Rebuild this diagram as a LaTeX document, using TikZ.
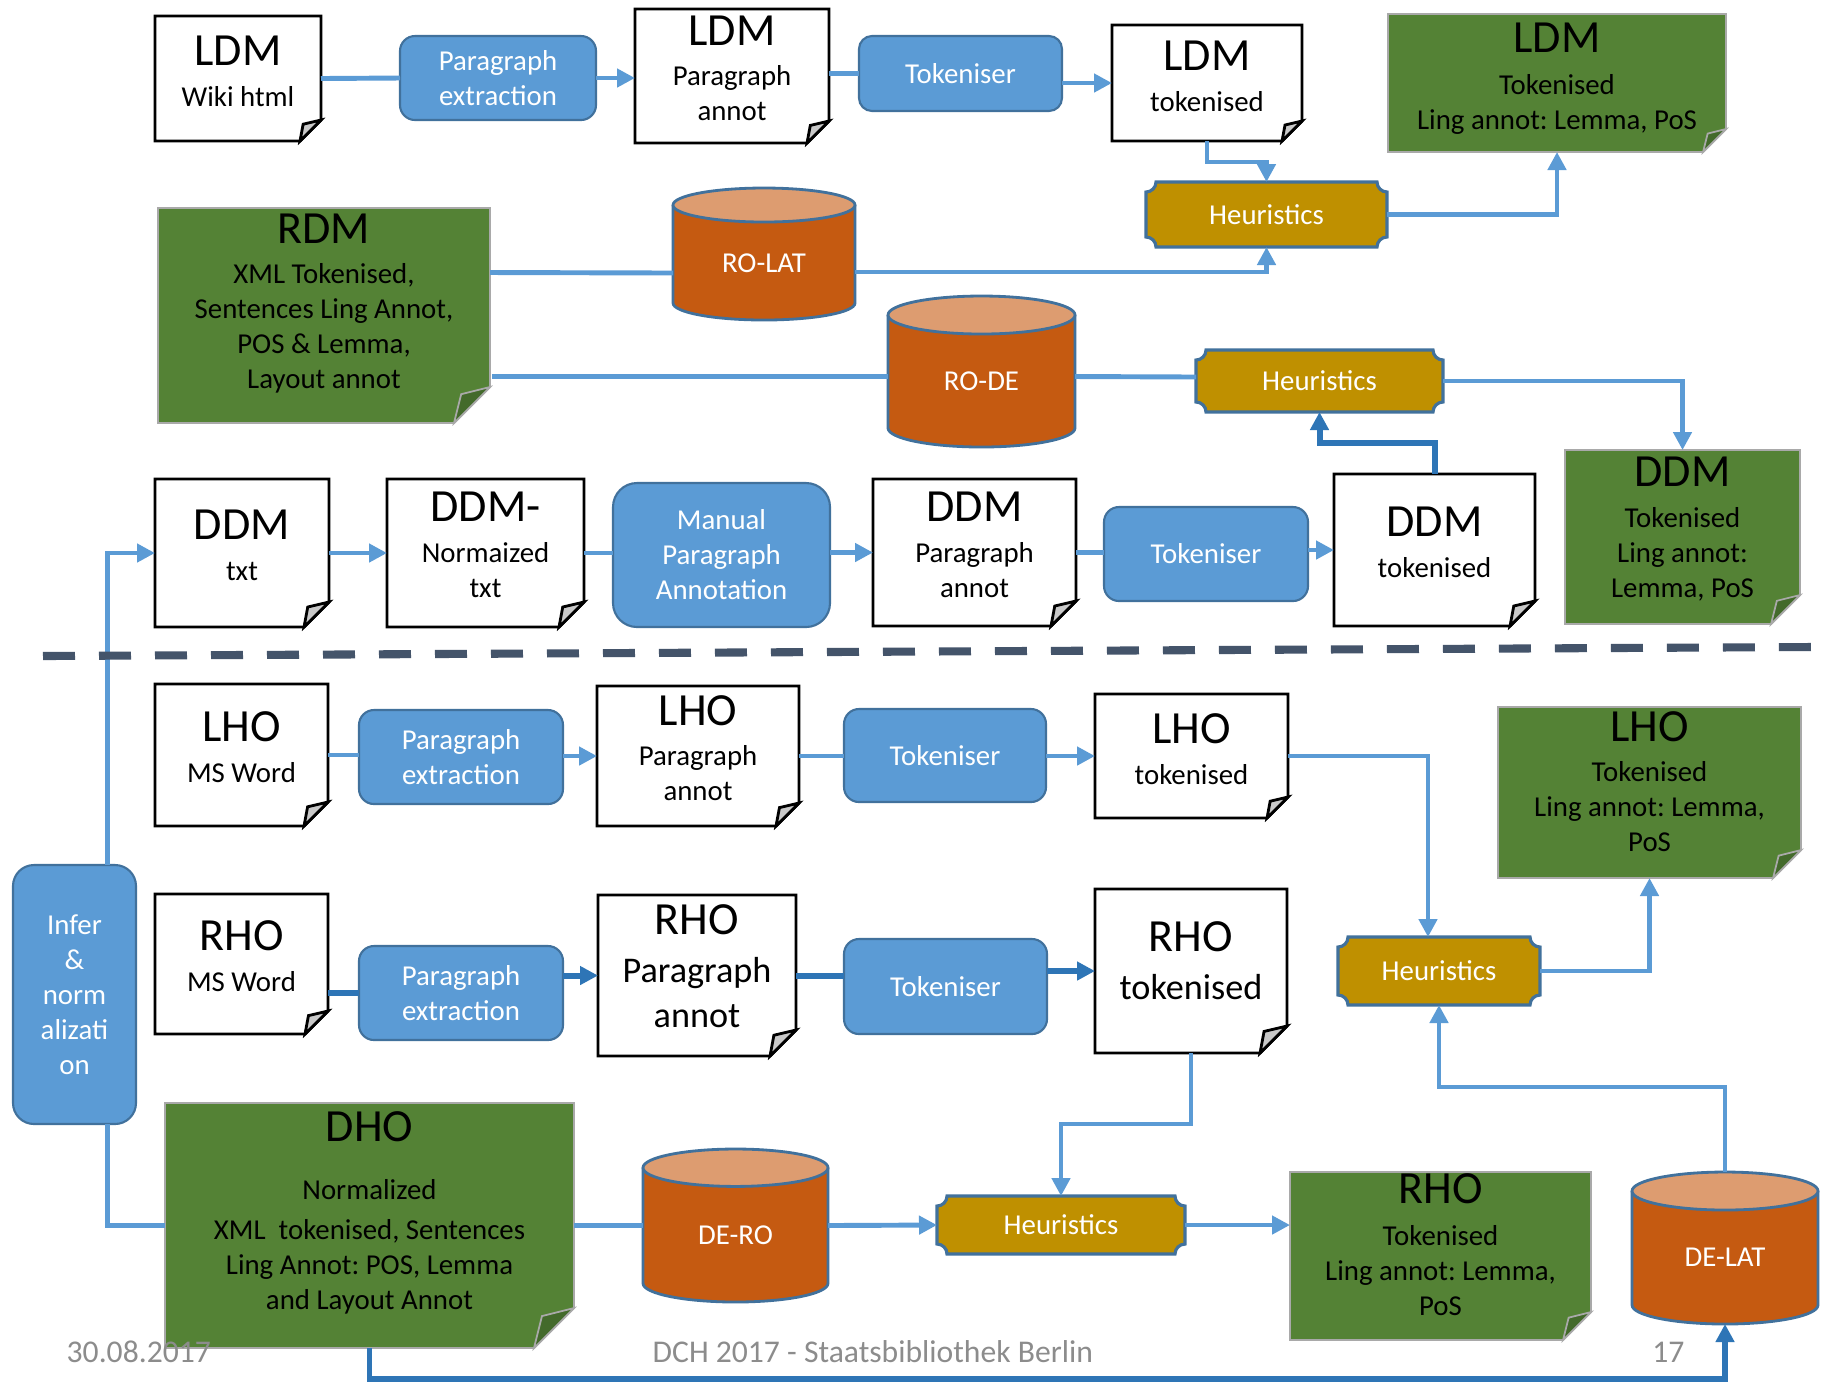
\documentclass[tikz,border=0pt]{standalone}
\usepackage{fontspec}
\setmainfont{Carlito}
\frenchspacing
\usetikzlibrary{arrows.meta,calc,backgrounds}

\definecolor{lineblue}{HTML}{5B9BD5}
\definecolor{darkline}{HTML}{2E75B6}
\definecolor{boxedge}{HTML}{41719C}
\definecolor{notegreen}{HTML}{548235}
\definecolor{foldgreen}{HTML}{436A2B}
\definecolor{noteedge}{HTML}{A9A9A9}
\definecolor{foldgray}{HTML}{C9C9C9}
\definecolor{heurgold}{HTML}{BF9000}
\definecolor{cylbody}{HTML}{C55A11}
\definecolor{cyltop}{HTML}{DD9C70}
\definecolor{sepline}{HTML}{44546A}
\definecolor{footgray}{HTML}{8C8C8C}

\newcommand\bodysize{\fontsize{8.2pt}{9.96pt}\selectfont}
\newcommand\titlesize{\fontsize{13.1pt}{15.7pt}\selectfont}
\newcommand\bigsize{\fontsize{10.3pt}{12.4pt}\selectfont}
\newcommand\footsize{\fontsize{9pt}{10.8pt}\selectfont}

\tikzset{
  spanbox/.style n args={4}{minimum width={(#3-#1)*0.1mm}, minimum height={(#4-#2)*0.1mm},
    at={({(#1+#3)/2},{(#2+#4)/2})}},
  conn/.style={draw=lineblue, line width=1.4pt},
  darkconn/.style={draw=darkline, line width=1.7pt},
  arrowed/.style={-{Triangle[length=1.8mm,width=1.8mm]}},
  docnode/.style={inner sep=0pt, outer sep=0pt, align=center, font=\bodysize, text depth=4.6pt},
  notenode/.style={docnode, text depth=6.2pt},
  procbox/.style={inner sep=0pt, outer sep=0pt, align=center, font=\bodysize, text=white,
    draw=boxedge, line width=0.6pt, fill=lineblue, rounded corners=1.5mm},
  heurtext/.style={inner sep=0pt, outer sep=0pt, font=\bodysize, text=white},
  cyltext/.style={heurtext, text height=10.7pt, text depth=0pt},
  docline/.style={draw=black, line width=0.8pt},
  noteline/.style={draw=noteedge, line width=0.5pt},
  heurline/.style={draw=boxedge, line width=0.9pt},
  cylline/.style={draw=boxedge, line width=0.8pt},
  sepdash/.style={draw=sepline, line width=2.3pt, dash pattern=on 3.2mm off 2.4mm},
  foot/.style={font=\footsize, text=footgray, inner sep=0pt},
}

\begin{document}
\begin{tikzpicture}[x=0.1mm, y=-0.1mm]
\useasboundingbox (0,0) rectangle (1826,1383);
\begin{scope}[on background layer]
  \fill[white] (0,0) rectangle (1826,1383);
\end{scope}

% LDM row
\node[docnode, text depth=4pt, spanbox={155}{16}{321}{141}] (ldmWiki) {{\titlesize LDM}\\[1.6pt]Wiki html};
\node[procbox, spanbox={400}{36}{596}{120}] (pe1) {Paragraph\\extraction};
\node[docnode, text depth=4.4pt, spanbox={635}{9}{829}{143}] (ldmPara) {{\titlesize LDM}\\[1.6pt]Paragraph\\annot};
\node[procbox, rounded corners=1.3mm, spanbox={859}{36}{1062}{111}] (tok1) {Tokeniser};
\node[docnode, text depth=4pt, spanbox={1112}{25}{1302}{141}] (ldmTok) {{\titlesize LDM}\\[1.6pt]tokenised};
\node[notenode, text depth=4pt, spanbox={1388}{14}{1726}{152}] (ldmOut) {{\titlesize LDM}\\[1.9pt]Tokenised\\Ling annot: Lemma, PoS};

% RDM
\node[notenode, text depth=8pt, spanbox={158}{208}{490}{423}] (rdm) {{\titlesize RDM}\\[1.4pt]XML Tokenised,\\Sentences Ling Annot,\\POS \& Lemma,\\Layout annot};

% DDM row
\node[docnode, spanbox={155}{479}{329}{627}] (ddmTxt) {{\titlesize DDM}\\[1.6pt]txt};
\node[docnode, spanbox={387}{479}{584}{627}] (ddmNorm) {{\titlesize DDM-}\\[1.6pt]Normaized\\txt};
\node[procbox, rounded corners=2.4mm, spanbox={613}{483}{830}{627}] (manual) {Manual\\Paragraph\\Annotation};
\node[docnode, spanbox={873}{479}{1076}{626}] (ddmPara) {{\titlesize DDM}\\[1.6pt]Paragraph\\annot};
\node[procbox, spanbox={1104}{507}{1308}{601}] (tok2) {Tokeniser};
\node[docnode, spanbox={1334}{474}{1535}{626}] (ddmTok) {{\titlesize DDM}\\[1.6pt]tokenised};
\node[notenode, text depth=5.5pt, spanbox={1565}{450}{1800}{624}] (ddmOut) {{\titlesize DDM}\\[1.7pt]Tokenised\\Ling annot:\\Lemma, PoS};

% LHO row
\node[docnode, spanbox={155}{684}{328}{826}] (lhoWord) {{\titlesize LHO}\\[1.6pt]MS Word};
\node[procbox, spanbox={359}{710}{563}{804}] (pe2) {Paragraph\\extraction};
\node[docnode, spanbox={597}{686}{799}{826}] (lhoPara) {{\titlesize LHO}\\[1.6pt]Paragraph\\annot};
\node[procbox, spanbox={844}{709}{1046}{802}] (tok3) {Tokeniser};
\node[docnode, text depth=4pt, spanbox={1095}{694}{1288}{818}] (lhoTok) {{\titlesize LHO}\\[1.6pt]tokenised};
\node[notenode, spanbox={1498}{707}{1801}{878}] (lhoOut) {{\titlesize LHO}\\[1.6pt]Tokenised\\Ling annot: Lemma,\\PoS};

% RHO row
\node[procbox, rounded corners=2.1mm, spanbox={13}{865}{136}{1124}] (infer) {Infer\\\&\\norm\\alizati\\on};
\node[docnode, spanbox={155}{894}{328}{1034}] (rhoWord) {{\titlesize RHO}\\[1.6pt]MS Word};
\node[procbox, spanbox={359}{946}{563}{1040}] (pe3) {Paragraph\\extraction};
\node[docnode, text depth=5.3pt, spanbox={598}{895}{796}{1056}] (rhoPara) {{\titlesize RHO}\\[3.6pt]{\bigsize Paragraph}\\[3.1pt]{\bigsize annot}};
\node[procbox, spanbox={844}{939}{1047}{1034}] (tok4) {Tokeniser};
\node[docnode, text depth=5.9pt, spanbox={1095}{889}{1287}{1053}] (rhoTok) {{\titlesize RHO}\\[3.8pt]{\bigsize tokenised}};

% DHO row
\node[notenode, text depth=8.7pt, spanbox={165}{1103}{574}{1348}] (dho) {{\titlesize DHO}\\[6.7pt]Normalized\\[1.2pt]XML\ \ tokenised, Sentences\\Ling Annot: POS, Lemma\\and Layout Annot};
\node[notenode, text depth=6.3pt, spanbox={1290}{1172}{1591}{1340}] (rhoOut) {{\titlesize RHO}\\[2pt]Tokenised\\Ling annot: Lemma,\\PoS};

% heuristics
\foreach \n/\xl/\yt/\xr/\yb in {h1/1146/182/1387/247, h2/1196/350/1443/412, h3/1338/937/1540/1005, h4/937/1196/1185/1254}
{
    \filldraw[heurline, fill=heurgold] (\xl+10,\yt) -- (\xr-10,\yt)
      .. controls (\xr-10,\yt+5.5) and (\xr-5.5,\yt+10) .. (\xr,\yt+10) -- (\xr,\yb-10)
      .. controls (\xr-5.5,\yb-10) and (\xr-10,\yb-5.5) .. (\xr-10,\yb) -- (\xl+10,\yb)
      .. controls (\xl+10,\yb-5.5) and (\xl+5.5,\yb-10) .. (\xl,\yb-10) -- (\xl,\yt+10)
      .. controls (\xl+5.5,\yt+10) and (\xl+10,\yt+5.5) .. (\xl+10,\yt) -- cycle;
    \node[heurtext, spanbox={\xl}{\yt}{\xr}{\yb}] (\n) {Heuristics};
}

% databases
\foreach \n/\xl/\yt/\xr/\yb/\ry/\lbl in {roLat/673/188/855/320/17/RO-LAT, roDe/888/296/1075/447/19/RO-DE, deRo/643/1149/828/1302/18.7/DE-RO, deLat/1632/1172/1818/1324/19/DE-LAT}
{
    \pgfmathsetmacro\xc{(\xl+\xr)/2}
    \pgfmathsetmacro\rx{(\xr-\xl)/2}
    \filldraw[cylline, fill=cylbody] (\xl,\yt+\ry) -- (\xl,\yb-\ry)
      .. controls (\xl,\yb-0.448*\ry) and (\xc-0.552*\rx,\yb) .. (\xc,\yb)
      .. controls (\xc+0.552*\rx,\yb) and (\xr,\yb-0.448*\ry) .. (\xr,\yb-\ry) -- (\xr,\yt+\ry);
    \filldraw[cylline, fill=cyltop] (\xc,\yt+\ry) ellipse [x radius=\rx, y radius=\ry];
    \node[cyltext, spanbox={\xl}{\yt}{\xr}{\yb}] (\n) {\lbl};
}

% document and note outlines
\begin{scope}[on background layer]
\foreach \n/\f in {ldmWiki/21,ldmPara/22,ldmTok/20,ddmTxt/25,ddmNorm/25,ddmPara/25,ddmTok/25,lhoWord/24,lhoPara/23,lhoTok/21,rhoWord/23,rhoPara/26,rhoTok/27}
{
    \filldraw[docline, fill=white] (\n.north west) -- (\n.north east) -- ($(\n.south east)+(0,-\f)$)
      -- ($(\n.south east)+(-\f,0)$) -- (\n.south west) -- cycle;
    \filldraw[docline, fill=foldgray] ($(\n.south east)+(0,-\f)$) -- ($(\n.south east)+(-0.85*\f,-0.8*\f)$)
      -- ($(\n.south east)+(-\f,0)$) -- cycle;
}
\foreach \n/\f in {ldmOut/23,rdm/36,ddmOut/29,lhoOut/28,dho/40,rhoOut/28}
{
    \filldraw[noteline, fill=notegreen] (\n.north west) -- (\n.north east) -- ($(\n.south east)+(0,-\f)$)
      -- ($(\n.south east)+(-\f,0)$) -- (\n.south west) -- cycle;
    \filldraw[noteline, fill=foldgreen] ($(\n.south east)+(0,-\f)$) -- ($(\n.south east)+(-0.8*\f,-0.8*\f)$)
      -- ($(\n.south east)+(-\f,0)$) -- cycle;
}
\end{scope}

% connectors, LDM and RDM
\draw[conn] (ldmWiki.east) -- (pe1.west);
\draw[conn, arrowed] (pe1.east) -- (pe1.east -| ldmPara.west);
\draw[conn] (ldmPara.east |- tok1.west) -- (tok1.west);
\draw[conn, arrowed] (tok1.east |- ldmTok.west) -- (ldmTok.west);
\draw[conn, arrowed] (ldmTok.south) -- ++(0,21) -| (h1.north);
\draw[conn, arrowed] (h1.east) -| (ldmOut.south);
\draw[conn] ($(rdm.east)+(0,-43)$) -- ($(roLat.west)+(0,19)$);
\draw[conn, arrowed] ($(roLat.east)+(0,18)$) -| (h1.south);
\draw[conn] ($(rdm.east)+(2,61)$) -- ($(roDe.west)+(0,5)$);
\draw[conn] ($(roDe.east)+(0,5)$) -- ($(h2.west)+(0,-4)$);
\draw[conn, arrowed] (h2.east) -| (ddmOut.north);
\draw[darkconn, arrowed] (ddmTok.north) -- ++(0,-31) -| (h2.south);

% connectors, DDM
\draw[conn, arrowed] ($(infer.north)+(33,0)$) |- (ddmTxt.west);
\draw[conn, arrowed] (ddmTxt.east) -- (ddmNorm.west);
\draw[conn] (ddmNorm.east) -- (ddmNorm.east -| manual.west);
\draw[conn, arrowed] (manual.east |- ddmPara.west) -- (ddmPara.west);
\draw[conn] (ddmPara.east) -- (ddmPara.east -| tok2.west);
\draw[conn, arrowed] (tok2.east |- ddmTok.west) -- (ddmTok.west);

% connectors, LHO
\draw[conn] (lhoWord.east) -- (lhoWord.east -| pe2.west);
\draw[conn, arrowed] (pe2.east |- lhoPara.west) -- (lhoPara.west);
\draw[conn] (lhoPara.east) -- (lhoPara.east -| tok3.west);
\draw[conn, arrowed] (tok3.east |- lhoTok.west) -- (lhoTok.west);
\draw[conn, arrowed] (lhoTok.east) -| ($(h3.north)+(-11,0)$);
\draw[conn, arrowed] (h3.east) -| (lhoOut.south);

% connectors, RHO
\draw[darkconn] (rhoWord.east |- pe3.west) -- (pe3.west);
\draw[darkconn, arrowed] (pe3.east |- rhoPara.west) -- (rhoPara.west);
\draw[darkconn] (rhoPara.east) -- (rhoPara.east -| tok4.west);
\draw[darkconn, arrowed] (tok4.east |- rhoTok.west) -- (rhoTok.west);
\draw[conn, arrowed] (rhoTok.south) -- ++(0,71) -| (h4.north);

% connectors, DHO
\draw[conn] ($(infer.south)+(33,0)$) |- (dho.west);
\draw[conn] (dho.east) -- (deRo.west);
\draw[conn, arrowed] (deRo.east) -- (h4.west);
\draw[conn, arrowed] (h4.east) -- (h4.east -| rhoOut.west);
\draw[conn, arrowed] (deLat.north) -- ++(0,-85) -| (h3.south);
\draw[darkconn, arrowed] (dho.south) -- ++(0,31) -| (deLat.south);

% separator
\draw[sepdash] (43,656) -- (1811,647);

% footer
\node[foot, anchor=base west] (date) at (66,1362.6) {30.08.2017};
\node[foot, anchor=base west] (venue) at (652,1362.6) {DCH 2017 - Staatsbibliothek Berlin};
\node[foot, anchor=base east] (page) at (1685,1362.6) {17};
\end{tikzpicture}
\end{document}
